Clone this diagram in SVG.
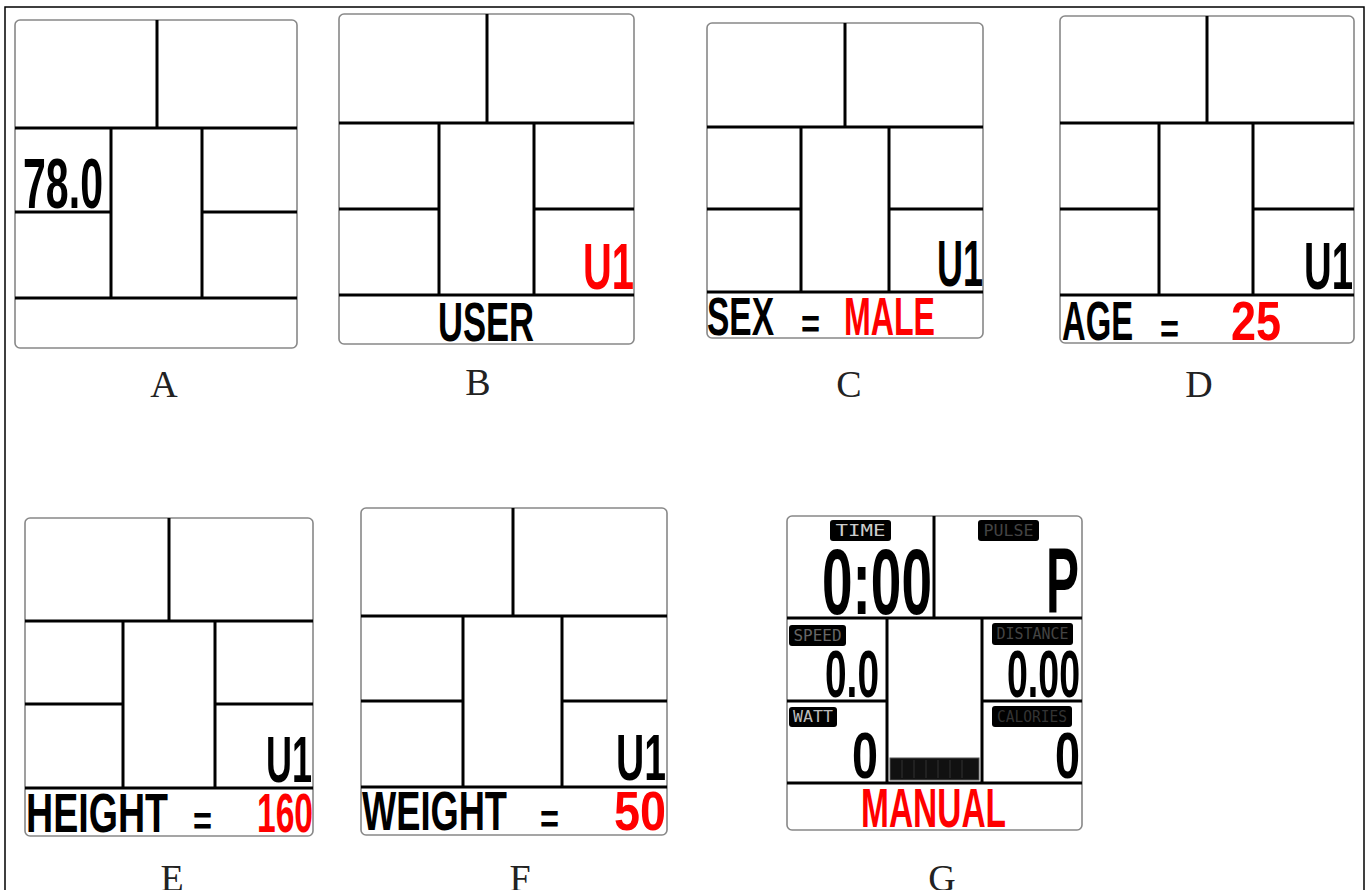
<svg xmlns="http://www.w3.org/2000/svg" width="1367" height="890" viewBox="0 0 1367 890">
<style>
.bg{fill:#fff}
.border{fill:none;stroke:#000;stroke-width:1.5}
.frame{fill:#fff;stroke:#888;stroke-width:1.6}
.seg{stroke:#000;stroke-width:3;fill:none}
.lcd{font-family:"Liberation Sans","DejaVu Sans",sans-serif;font-weight:bold}
.k{fill:#000}
.r{fill:#ff0000}
.cap{font-family:"Liberation Serif","DejaVu Serif",serif;font-size:38px;fill:#222;text-anchor:middle}
.badge{fill:#000}
.bt{font-family:"DejaVu Sans Mono","Liberation Mono",monospace;font-size:15px}
</style>
<rect class="bg" x="0" y="0" width="1367" height="890"/>
<rect class="border" x="5" y="7" width="1359" height="900"/>

<g id="panel-A">
<rect class="frame" x="15" y="20" width="282" height="328" rx="5"/>
<path class="seg" d="M157 20V128M15 128H297M111 128V298M202 128V298M15 212H111M202 212H297M15 298H297"/>
<text class="lcd k" x="23" y="208" font-size="70" textLength="80" lengthAdjust="spacingAndGlyphs">78.0</text>
<text class="cap" x="164" y="397">A</text>
</g>

<g id="panel-B">
<rect class="frame" x="339" y="14" width="295" height="330" rx="5"/>
<path class="seg" d="M487 14V123M339 123H634M439 123V295M534 123V295M339 209H439M534 209H634M339 295H634"/>
<text class="lcd r" x="583" y="289" font-size="65" textLength="51" lengthAdjust="spacingAndGlyphs">U1</text>
<text class="lcd k" x="438" y="341" font-size="56" textLength="96" lengthAdjust="spacingAndGlyphs">USER</text>
<text class="cap" x="478" y="395">B</text>
</g>

<g id="panel-C">
<rect class="frame" x="707" y="23" width="276" height="315" rx="5"/>
<path class="seg" d="M845 23V127M707 127H983M801 127V292M889 127V292M707 209H801M889 209H983M707 292H983"/>
<text class="lcd k" x="937" y="286" font-size="64" textLength="46" lengthAdjust="spacingAndGlyphs">U1</text>
<text class="lcd k" x="707" y="335" font-size="53" textLength="67" lengthAdjust="spacingAndGlyphs">SEX</text>
<text class="lcd k" x="801" y="338" font-size="40" textLength="19" lengthAdjust="spacingAndGlyphs">=</text>
<text class="lcd r" x="844" y="335" font-size="53" textLength="91" lengthAdjust="spacingAndGlyphs">MALE</text>
<text class="cap" x="849" y="397">C</text>
</g>

<g id="panel-D">
<rect class="frame" x="1060" y="16" width="294" height="327" rx="5"/>
<path class="seg" d="M1207 16V123M1060 123H1354M1159 123V295M1253 123V295M1060 209H1159M1253 209H1354M1060 295H1354"/>
<text class="lcd k" x="1304" y="289" font-size="67" textLength="49" lengthAdjust="spacingAndGlyphs">U1</text>
<text class="lcd k" x="1062" y="340" font-size="56" textLength="71" lengthAdjust="spacingAndGlyphs">AGE</text>
<text class="lcd k" x="1160" y="343" font-size="40" textLength="19" lengthAdjust="spacingAndGlyphs">=</text>
<text class="lcd r" x="1231" y="340" font-size="56" textLength="50" lengthAdjust="spacingAndGlyphs">25</text>
<text class="cap" x="1199" y="397">D</text>
</g>

<g id="panel-E">
<rect class="frame" x="25" y="518" width="288" height="318" rx="5"/>
<path class="seg" d="M169 518V621M25 621H313M123 621V788M215 621V788M25 704H123M215 704H313M25 788H313"/>
<text class="lcd k" x="266" y="782" font-size="65" textLength="46" lengthAdjust="spacingAndGlyphs">U1</text>
<text class="lcd k" x="26" y="832" font-size="56" textLength="142" lengthAdjust="spacingAndGlyphs">HEIGHT</text>
<text class="lcd k" x="193" y="835" font-size="40" textLength="19" lengthAdjust="spacingAndGlyphs">=</text>
<text class="lcd r" x="257" y="832" font-size="56" textLength="56" lengthAdjust="spacingAndGlyphs">160</text>
<text class="cap" x="172" y="891">E</text>
</g>

<g id="panel-F">
<rect class="frame" x="361" y="508" width="306" height="327" rx="5"/>
<path class="seg" d="M513 508V616M361 616H667M463 616V787M562 616V787M361 701H463M562 701H667M361 787H667"/>
<text class="lcd k" x="616" y="780" font-size="65" textLength="50" lengthAdjust="spacingAndGlyphs">U1</text>
<text class="lcd k" x="362" y="830" font-size="55" textLength="145" lengthAdjust="spacingAndGlyphs">WEIGHT</text>
<text class="lcd k" x="540" y="833" font-size="40" textLength="19" lengthAdjust="spacingAndGlyphs">=</text>
<text class="lcd r" x="614" y="830" font-size="55" textLength="52" lengthAdjust="spacingAndGlyphs">50</text>
<text class="cap" x="520" y="891">F</text>
</g>

<g id="panel-G">
<rect class="frame" x="787" y="516" width="295" height="314" rx="5"/>
<path class="seg" d="M934 516V618M787 618H1082M887 618V783M982 618V783M787 701H887M982 701H1082M787 783H1082"/>
<g id="g-time">
<rect class="badge" x="830" y="520" width="61" height="21" rx="3"/>
<text class="bt" x="860.5" y="536" fill="#ccc" text-anchor="middle" textLength="50" lengthAdjust="spacingAndGlyphs">TIME</text>
<text class="lcd k" x="822" y="614" font-size="93" textLength="110" lengthAdjust="spacingAndGlyphs">0:00</text>
</g>
<g id="g-pulse">
<rect class="badge" x="978" y="520" width="61" height="21" rx="3"/>
<text class="bt" x="1008.5" y="536" fill="#444" text-anchor="middle" textLength="50" lengthAdjust="spacingAndGlyphs">PULSE</text>
<text class="lcd k" x="1046" y="613" font-size="92" textLength="33" lengthAdjust="spacingAndGlyphs">P</text>
</g>
<g id="g-speed">
<rect class="badge" x="789" y="625" width="57" height="21" rx="3"/>
<text class="bt" x="817.5" y="641" fill="#666" text-anchor="middle" textLength="48" lengthAdjust="spacingAndGlyphs">SPEED</text>
<text class="lcd k" x="825" y="697" font-size="67" textLength="54" lengthAdjust="spacingAndGlyphs">0.0</text>
</g>
<g id="g-distance">
<rect class="badge" x="992" y="623" width="81" height="22" rx="3"/>
<text class="bt" x="1032.5" y="639" fill="#444" text-anchor="middle" textLength="72" lengthAdjust="spacingAndGlyphs">DISTANCE</text>
<text class="lcd k" x="1007" y="697" font-size="67" textLength="73" lengthAdjust="spacingAndGlyphs">0.00</text>
</g>
<g id="g-watt">
<rect class="badge" x="789" y="707" width="48" height="20" rx="3"/>
<text class="bt" x="813" y="722" fill="#bbb" text-anchor="middle" textLength="40" lengthAdjust="spacingAndGlyphs">WATT</text>
<text class="lcd k" x="852" y="778" font-size="65" textLength="26" lengthAdjust="spacingAndGlyphs">0</text>
</g>
<g id="g-calories">
<rect class="badge" x="992" y="706" width="80" height="21" rx="3"/>
<text class="bt" x="1032" y="722" fill="#333" text-anchor="middle" textLength="70" lengthAdjust="spacingAndGlyphs">CALORIES</text>
<text class="lcd k" x="1055" y="778" font-size="65" textLength="25" lengthAdjust="spacingAndGlyphs">0</text>
</g>
<g id="g-bar">
<rect x="890" y="758" width="89" height="22" fill="#111" stroke="#555" stroke-width="1"/>
<path d="M902 760V778M914 760V778M926 760V778M938 760V778M950 760V778M962 760V778" stroke="#333" stroke-width="1"/>
</g>
<text class="lcd r" x="861" y="827" font-size="55" textLength="145" lengthAdjust="spacingAndGlyphs">MANUAL</text>
<text class="cap" x="942" y="891">G</text>
</g>
</svg>
